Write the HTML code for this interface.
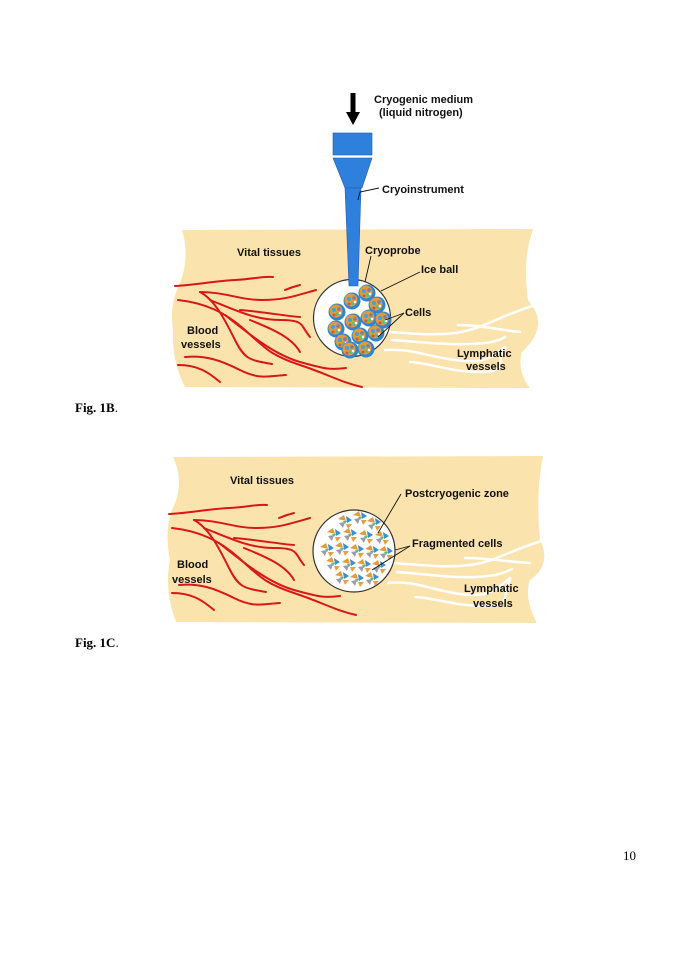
<!DOCTYPE html>
<html><head><meta charset="utf-8"><style>
html,body{margin:0;padding:0;background:#fff;}
body{width:675px;height:954px;position:relative;overflow:hidden;}
svg{position:absolute;left:0;top:0;}
text.l{font-family:"Liberation Sans",Arial,sans-serif;font-weight:bold;font-size:11px;fill:#111;}
text.f{font-family:"Liberation Serif",serif;font-size:13px;fill:#000;}
</style></head><body>
<svg width="675" height="954" viewBox="0 0 675 954">
<defs>
<g id="cell">
<circle cx="0" cy="0" r="8.5" fill="#2f86d0"/>
<circle cx="-1" cy="-1" r="6.5" fill="#e39a3a"/>
<circle cx="-3" cy="-2" r="2" fill="#3aa5e0"/>
<circle cx="2" cy="-3" r="1.8" fill="#7a7ab0"/>
<circle cx="1" cy="2" r="2" fill="#5bbf7a"/>
<circle cx="-3" cy="3" r="1.5" fill="#c45a4a"/>
<circle cx="3" cy="1" r="1.3" fill="#fff"/>
</g>
<g id="frag">
<path d="M-7,-3 L-1,-7 L1,-1 Z" fill="#e39a3a"/>
<path d="M1,-6 L7,-2 L2,1 Z" fill="#3a8fd0"/>
<path d="M-6,1 L0,0 L-2,6 Z" fill="#9a9ab0"/>
<path d="M1,2 L7,2 L3,7 Z" fill="#e3a04a"/>
<path d="M-2,-1 L2,-1 L0,2 Z" fill="#5bbf7a"/>
</g>
<g id="vessels" fill="none" stroke="#d81818" stroke-width="2" stroke-linecap="round">
<path d="M175,286 C195,285 215,281 235,280 S262,276 273,277"/>
<path d="M200,292 C225,292 240,300 262,300 S295,296 316,290"/>
<path d="M178,300 C205,303 225,312 245,330 S270,355 300,365 S340,382 362,387"/>
<path d="M200,292 C215,300 225,320 235,340 S250,360 272,364"/>
<path d="M185,357 C205,355 220,360 240,370 S268,376 286,375"/>
<path d="M178,365 C198,365 208,372 220,382"/>
<path d="M210,300 C235,310 255,320 280,320 S300,325 310,337"/>
<path d="M250,320 C275,330 292,338 300,352"/>
<path d="M225,315 C250,335 275,355 300,362 S330,370 346,368"/>
<path d="M240,310 C265,312 285,316 300,317"/>
<path d="M285,290 C292,287 296,286 300,285"/>
</g>
</defs>

<!-- ===== Fig 1B ===== -->
<path d="M182,230 L533,229 C526,250 524,270 528,300 C540,315 545,330 522,352 C518,365 522,378 530,388 L185,387 C176,370 172,350 173,330 C170,310 174,295 180,283 C186,268 188,250 182,230 Z" fill="#fbe3ad"/>
<use href="#vessels"/>
<g fill="none" stroke="#fff" stroke-width="2.5" stroke-linecap="round">
<path d="M388,332 C410,333 430,336 455,333 S495,318 535,305"/>
<path d="M458,325 C480,325 500,330 520,332"/>
<path d="M392,340 C420,342 445,345 470,344 S500,340 505,337"/>
<path d="M385,350 C410,348 425,356 455,360 S490,358 505,347"/>
<path d="M410,362 C430,363 450,372 480,372 S495,360 505,348"/>
</g>
<!-- instrument -->
<path d="M353,93 L353,114" stroke="#000" stroke-width="5"/>
<path d="M346,112 L360,112 L353,125 Z" fill="#000"/>
<rect x="333" y="133" width="39" height="22" fill="#2f7fdc" stroke="#1f5fae" stroke-width="0.6"/>
<path d="M333,158 L372,158 L362,188 L345,188 Z" fill="#2f7fdc" stroke="#1f5fae" stroke-width="0.6"/>
<circle cx="352" cy="318" r="38.5" fill="#fff" stroke="#333" stroke-width="1.2"/>
<path d="M345,188 L361,188 L358,286 L349,286 Z" fill="#2f7fdc" stroke="#1f5fae" stroke-width="0.6"/>
<g>
<use href="#cell" x="337" y="312"/><use href="#cell" x="352" y="301"/><use href="#cell" x="367" y="293"/>
<use href="#cell" x="377" y="305"/><use href="#cell" x="336" y="329"/><use href="#cell" x="353" y="322"/>
<use href="#cell" x="369" y="318"/><use href="#cell" x="383" y="320"/><use href="#cell" x="343" y="342"/>
<use href="#cell" x="360" y="336"/><use href="#cell" x="376" y="333"/><use href="#cell" x="350" y="350"/>
<use href="#cell" x="366" y="349"/>
</g>
<g stroke="#111" stroke-width="0.9" fill="none">
<path d="M379,188 L360,192 L358,200"/>
<path d="M371,256 L365,282"/>
<path d="M420,272 L381,291"/>
<path d="M404,313 L396,316 L385,320"/>
<path d="M404,313 L378,337"/>
</g>
<text class="l" x="374" y="103">Cryogenic medium</text>
<text class="l" x="379" y="116">(liquid nitrogen)</text>
<text class="l" x="382" y="193">Cryoinstrument</text>
<text class="l" x="237" y="256">Vital tissues</text>
<text class="l" x="365" y="254">Cryoprobe</text>
<text class="l" x="421" y="273">Ice ball</text>
<text class="l" x="405" y="316">Cells</text>
<text class="l" x="187" y="334">Blood</text>
<text class="l" x="181" y="348">vessels</text>
<text class="l" x="457" y="357">Lymphatic</text>
<text class="l" x="466" y="370">vessels</text>
<text class="f" x="75" y="412"><tspan font-weight="bold">Fig. 1B</tspan>.</text>

<!-- ===== Fig 1C ===== -->
<path d="M173,457 L543,456 C538,480 537,510 540,540 C548,555 545,570 530,580 C525,595 530,610 537,623 L176,622 C168,600 166,580 170,560 C166,540 167,525 172,510 C180,495 182,475 173,457 Z" fill="#fbe3ad"/>
<g transform="translate(-6,228)"><use href="#vessels"/></g>
<g fill="none" stroke="#fff" stroke-width="2.5" stroke-linecap="round">
<path d="M393,563 C420,565 445,568 470,565 S510,550 545,540"/>
<path d="M465,558 C490,558 510,562 530,563"/>
<path d="M397,572 C425,574 450,578 475,577 S505,572 512,569"/>
<path d="M388,583 C415,580 430,590 460,594 S495,590 510,578"/>
<path d="M415,597 C435,598 455,606 485,606 S500,595 510,580"/>
</g>
<circle cx="354" cy="551" r="41" fill="#fff" stroke="#333" stroke-width="1.2"/>
<g>
<use href="#frag" x="345" y="522"/><use href="#frag" x="360" y="518"/><use href="#frag" x="374" y="524"/>
<use href="#frag" x="334" y="535"/><use href="#frag" x="350" y="535"/><use href="#frag" x="366" y="537"/><use href="#frag" x="382" y="538"/>
<use href="#frag" x="327" y="550"/><use href="#frag" x="342" y="549"/><use href="#frag" x="357" y="551"/><use href="#frag" x="372" y="552"/><use href="#frag" x="386" y="553"/>
<use href="#frag" x="333" y="564"/><use href="#frag" x="349" y="565"/><use href="#frag" x="364" y="566"/><use href="#frag" x="379" y="567"/>
<use href="#frag" x="342" y="578"/><use href="#frag" x="357" y="580"/><use href="#frag" x="372" y="579"/>
</g>
<g stroke="#111" stroke-width="0.9" fill="none">
<path d="M401,494 L378,533"/>
<path d="M410,546 L395,550"/>
<path d="M410,546 L372,570"/>
</g>
<text class="l" x="230" y="484">Vital tissues</text>
<text class="l" x="405" y="497">Postcryogenic zone</text>
<text class="l" x="412" y="547">Fragmented cells</text>
<text class="l" x="177" y="568">Blood</text>
<text class="l" x="172" y="583">vessels</text>
<text class="l" x="464" y="592">Lymphatic</text>
<text class="l" x="473" y="607">vessels</text>
<text class="f" x="75" y="647"><tspan font-weight="bold">Fig. 1C</tspan>.</text>

<text class="f" x="623" y="860" font-size="12">10</text>
</svg>
</body></html>
